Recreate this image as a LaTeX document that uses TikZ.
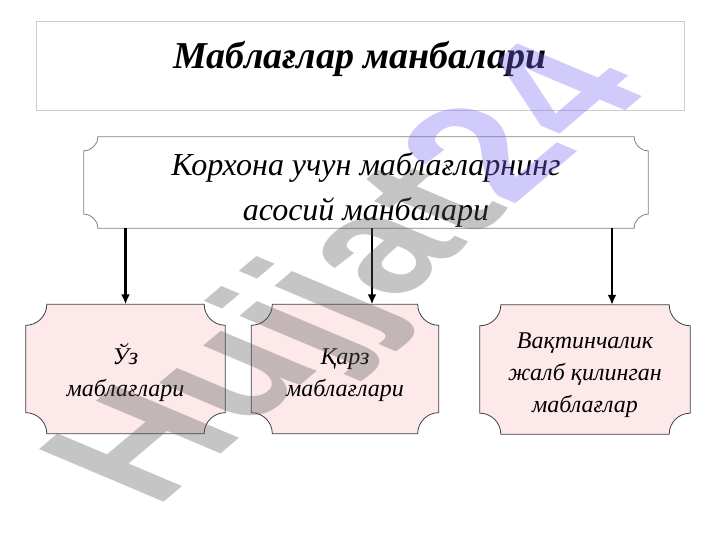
\documentclass[tikz,border=0pt]{standalone}
\usepackage{fontspec}
\setmainfont{Liberation Serif}
\newfontfamily\wmfont{Liberation Sans}
\usetikzlibrary{positioning,arrows.meta,backgrounds}
\definecolor{boxpink}{RGB}{253,233,233}
\definecolor{wmgrey}{RGB}{88,88,88}
\definecolor{wmblue}{RGB}{120,105,240}
\tikzset{
titlebox/.style={
  draw=gray!40,
  line width=0.7pt,
  minimum width=648pt,
  minimum height=89pt,
  inner sep=0pt,
  text height=27pt,
  text depth=20pt,
  font=\fontsize{38}{42}\selectfont\bfseries\itshape
},
mainbox/.style={
  minimum width=564pt,
  minimum height=91pt,
  inner sep=0pt,
  align=center,
  font=\fontsize{32}{45}\selectfont\itshape
},
srcbox/.style={
  minimum width=#1,
  minimum height=129pt,
  inner sep=0pt,
  align=center,
  font=\fontsize{24}{32}\selectfont\itshape
},
srcbox/.default=199pt,
srcarrow/.style={
  line width=2.4pt,
  -{Latex[length=10pt,width=9pt]}
}
}
% concave cornered frame around a node: #1 node, #2 radius, #3 options
\newcommand\plaqueframe[3]{%
  \draw[#3] ([xshift=#2]#1.north west) -- ([xshift=-#2]#1.north east)
    arc[start angle=180,end angle=270,radius=#2]
    -- ([yshift=#2]#1.south east)
    arc[start angle=90,end angle=180,radius=#2]
    -- ([xshift=#2]#1.south west)
    arc[start angle=0,end angle=90,radius=#2]
    -- ([yshift=-#2]#1.north west)
    arc[start angle=270,end angle=360,radius=#2] -- cycle;}
\newcommand\firstline{\rule{0pt}{28pt}}

\begin{document}
\begin{tikzpicture}[x=1pt,y=1pt]
  \useasboundingbox (0,0) rectangle (720,540);

  \node[titlebox] (title) at (360,474.5) {Маблағлар манбалари};

  \node[mainbox] (main) at (366,357.5) {\rule{0pt}{37pt}Корхона учун маблағларнинг\\асосий манбалари};

  \node[srcbox=199pt] (own) at (125.5,171) {\firstline Ўз\\маблағлари};
  \node[srcbox=187pt] (loan) at (345,171) {\firstline Қарз\\маблағлари};
  \node[srcbox=210pt] (temp) at (585,170.5) {\firstline Вақтинчалик\\жалб қилинган\\маблағлар};

  \begin{scope}[on background layer]
    \plaqueframe{main}{14pt}{draw=gray,line width=0.8pt,fill=white}
    \plaqueframe{own}{21pt}{draw=black!75,line width=0.8pt,fill=boxpink}
    \plaqueframe{loan}{21pt}{draw=black!75,line width=0.8pt,fill=boxpink}
    \plaqueframe{temp}{21pt}{draw=black!75,line width=0.8pt,fill=boxpink}
  \end{scope}

  \draw[srcarrow] (main.south -| own.north) -- (own.north);
  \draw[srcarrow] ([xshift=27pt]loan.north |- main.south) -- ([xshift=27pt]loan.north);
  \draw[srcarrow] ([xshift=27pt]temp.north |- main.south) -- ([xshift=27pt]temp.north);

  % watermark, turned and flattened
  \begin{scope}[shift={(358,262)},cm={0.578,0.49,-0.816,0.345,(0,0)}]
    \node[transform shape,opacity=0.35,font=\wmfont\bfseries\fontsize{222}{222}\selectfont] (mark) at (0,0)
      {\textcolor{wmgrey}{Hujjat}\textcolor{wmblue}{24}};
  \end{scope}
\end{tikzpicture}
\end{document}
